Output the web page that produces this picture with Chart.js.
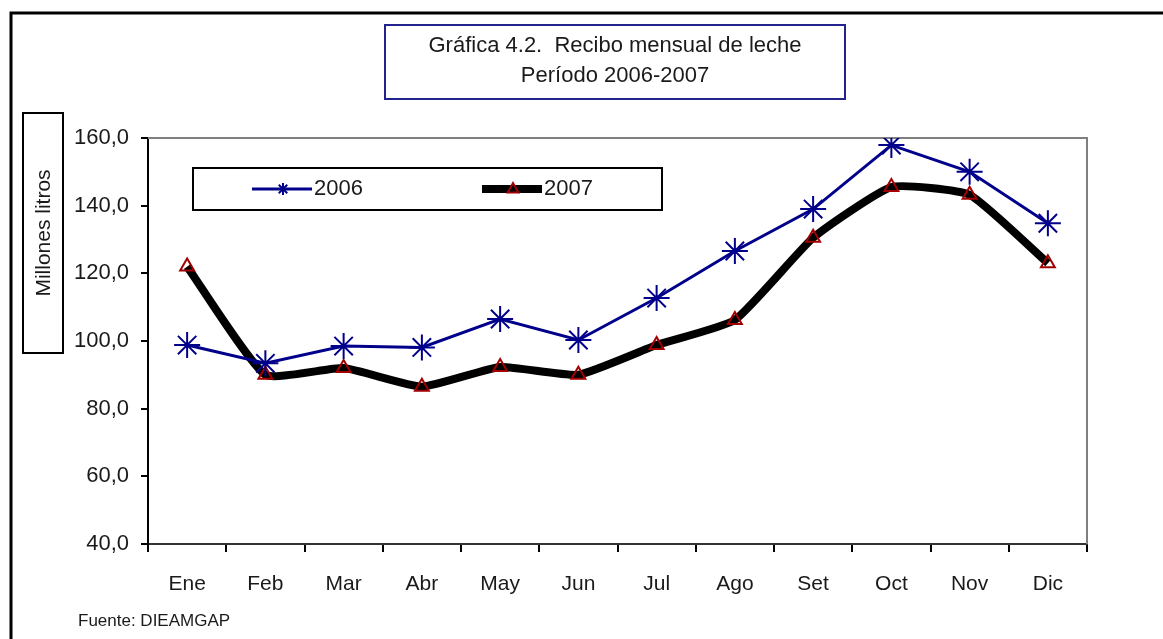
<!DOCTYPE html>
<html>
<head>
<meta charset="utf-8">
<script src="https://cdn.jsdelivr.net/npm/chart.js@4.4.1/dist/chart.umd.min.js"></script>
<style>
  html, body { margin: 0; padding: 0; background: #fff; }
  #wrap { width: 1163px; height: 639px; position: relative; }
</style>
</head>
<body>
<div id="wrap"><canvas id="lecheChart" width="1163" height="639"></canvas></div>
<script>
// datos
var months = ['Ene', 'Feb', 'Mar', 'Abr', 'May', 'Jun', 'Jul', 'Ago', 'Set', 'Oct', 'Nov', 'Dic'];
var recibo2006 = [98.8, 93.4, 98.5, 98.1, 106.5, 100.3, 112.7, 126.6, 139.0, 157.9, 150.0, 134.8];
var recibo2007 = [122.0, 90.0, 92.0, 86.5, 92.3, 90.0, 98.8, 106.2, 130.5, 145.5, 143.2, 123.0];
var yTicks = [40, 60, 80, 100, 120, 140, 160];

var titleLines = ['Gráfica 4.2.  Recibo mensual de leche', 'Período 2006-2007'];
var yTitle = 'Millones litros';
var sourceNote = 'Fuente: DIEAMGAP';

var FONT = '"Liberation Sans", Arial, sans-serif';
var TXT = '#1a1a1a';

// marcador pequeño para la leyenda
function legendMarker(ctx, style, x, y, r, color) {
  ctx.save();
  ctx.strokeStyle = color;
  ctx.lineWidth = 2;
  ctx.beginPath();
  if (style === 'star') {
    for (var k = 0; k < 4; k++) {
      var ang = k * Math.PI / 4;
      ctx.moveTo(x - Math.sin(ang) * r, y - Math.cos(ang) * r);
      ctx.lineTo(x + Math.sin(ang) * r, y + Math.cos(ang) * r);
    }
  } else {
    ctx.moveTo(x, y - r);
    ctx.lineTo(x + r * 0.9, y + r * 0.6);
    ctx.lineTo(x - r * 0.9, y + r * 0.6);
    ctx.closePath();
  }
  ctx.stroke();
  ctx.restore();
}

// cajas, marco y leyenda al estilo Excel
var decorPlugin = {
  id: 'decor',
  beforeDatasetsDraw: function(chart) {
    var ctx = chart.ctx, a = chart.chartArea;
    ctx.save();
    ctx.strokeStyle = '#7f7f7f';
    ctx.lineWidth = 2;
    ctx.beginPath();
    ctx.moveTo(a.left, a.top);
    ctx.lineTo(a.right, a.top);
    ctx.lineTo(a.right, a.bottom);
    ctx.stroke();
    ctx.restore();
  },
  afterDraw: function(chart) {
    var ctx = chart.ctx;
    ctx.save();

    // marco exterior
    ctx.strokeStyle = '#000';
    ctx.lineWidth = 3;
    ctx.beginPath();
    ctx.moveTo(11, 639);
    ctx.lineTo(11, 13);
    ctx.lineTo(1163, 13);
    ctx.stroke();

    // titulo
    ctx.fillStyle = '#fff';
    ctx.fillRect(385, 25, 460, 74);
    ctx.strokeStyle = '#23238c';
    ctx.lineWidth = 2;
    ctx.strokeRect(385, 25, 460, 74);
    ctx.fillStyle = TXT;
    ctx.font = '22px ' + FONT;
    ctx.textAlign = 'center';
    ctx.textBaseline = 'middle';
    ctx.fillText(titleLines[0], 615, 46);
    ctx.fillText(titleLines[1], 615, 76);

    // titulo eje y
    ctx.strokeStyle = '#000';
    ctx.lineWidth = 2;
    ctx.strokeRect(23, 113, 40, 240);
    ctx.save();
    ctx.translate(44, 233);
    ctx.rotate(-Math.PI / 2);
    ctx.font = '21px ' + FONT;
    ctx.fillText(yTitle, 0, 0);
    ctx.restore();

    // leyenda
    ctx.fillStyle = '#fff';
    ctx.fillRect(193, 168, 469, 42);
    ctx.strokeStyle = '#000';
    ctx.lineWidth = 2;
    ctx.strokeRect(193, 168, 469, 42);
    var xs = [252, 482];
    chart.data.datasets.forEach(function(ds, i) {
      var x0 = xs[i], y = 189;
      ctx.strokeStyle = ds.borderColor;
      ctx.lineWidth = ds.borderWidth;
      ctx.beginPath();
      ctx.moveTo(x0, y);
      ctx.lineTo(x0 + 60, y);
      ctx.stroke();
      legendMarker(ctx, ds.pointStyle, x0 + 31, y, 6, ds.pointBorderColor);
      ctx.fillStyle = TXT;
      ctx.font = '22px ' + FONT;
      ctx.textAlign = 'left';
      ctx.fillText(ds.label, x0 + 62, y);
    });

    // fuente
    ctx.font = '17px ' + FONT;
    ctx.textAlign = 'left';
    ctx.fillText(sourceNote, 78, 621);
    ctx.restore();
  }
};

var ctx = document.getElementById('lecheChart').getContext('2d');
var lecheChart = new Chart(ctx, {
  type: 'line',
  data: {
    labels: months,
    datasets: [{
      label: '2006',
      data: recibo2006,
      borderColor: '#00008b',
      borderWidth: 3,
      tension: 0,
      pointStyle: 'star',
      pointRadius: 13,
      pointBorderColor: '#00008b',
      pointBackgroundColor: '#00008b',
      pointBorderWidth: 2
    }, {
      label: '2007',
      data: recibo2007,
      borderColor: '#000',
      borderWidth: 8,
      tension: 0.15,
      pointStyle: 'triangle',
      pointRadius: 8,
      pointBorderColor: '#a00000',
      pointBackgroundColor: 'rgba(255,255,255,0)',
      pointBorderWidth: 2
    }]
  },
  options: {
    responsive: false,
    animation: false,
    layout: { padding: { left: 0, right: 76, top: 138, bottom: 0 } },
    plugins: {
      legend: { display: false },
      title: { display: false },
      tooltip: { enabled: false }
    },
    scales: {
      x: {
        offset: true,
        grid: { display: true, offset: true, drawOnChartArea: false, color: '#000', lineWidth: 2, tickLength: 8 },
        border: { color: '#333', width: 2 },
        ticks: { color: TXT, font: { family: FONT, size: 21 }, padding: 20, maxRotation: 0 },
        afterFit: function(s) { s.height = 95; }
      },
      y: {
        min: 40,
        max: 160,
        afterBuildTicks: function(s) { s.ticks = yTicks.map(function(v) { return {value: v}; }); },
        grid: { display: true, drawOnChartArea: false, color: '#000', lineWidth: 2, tickLength: 7 },
        border: { color: '#000', width: 2 },
        ticks: {
          color: TXT,
          font: { family: FONT, size: 22 },
          padding: 12,
          callback: function(v) { return v.toFixed(1).replace('.', ','); }
        },
        afterFit: function(s) { s.width = 148; }
      }
    }
  },
  plugins: [decorPlugin]
});
</script>
</body>
</html>
